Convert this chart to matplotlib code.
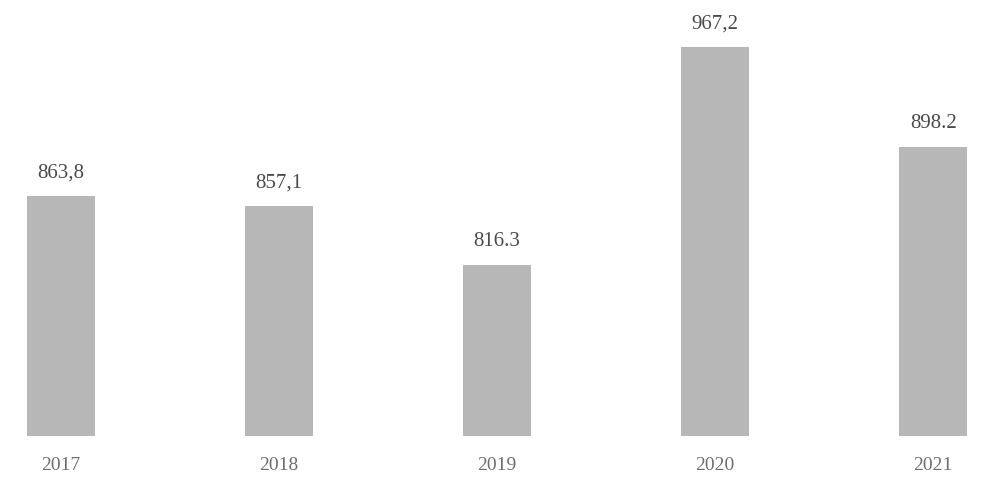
import numpy as np
import matplotlib.pyplot as plt

# data
years = ['2017', '2018', '2019', '2020', '2021']
values = [863.8, 857.1, 816.3, 967.2, 898.2]
value_labels = ['863,8', '857,1', '816.3', '967,2', '898.2']

base = 697.5  # bars do not start at zero

plt.rcParams['font.family'] = ['Liberation Serif', 'DejaVu Serif']

fig = plt.figure(figsize=(9.92, 4.93), dpi=100)
ax = fig.add_axes([0, 0, 1, 1])

x = np.arange(len(years))
heights = [v - base for v in values]
bars = ax.bar(x, heights, bottom=base, width=0.31, color='#b7b7b7', edgecolor='none')

for xi, v, lab in zip(x, values, value_labels):
    ax.annotate(lab, (xi, v), xytext=(0, 10), textcoords='offset points',
                ha='center', va='bottom', fontsize=15, color='#4a4a4a')
    
for xi, yr in zip(x, years):
    ax.text(xi, 677, yr, ha='center', va='center', fontsize=14, color='#6e6e6e')

ax.set_xlim(-0.28, 4.27)
ax.set_ylim(658, 1000)
ax.axis('off')

fig.savefig('out.png', dpi=100, facecolor='white')
